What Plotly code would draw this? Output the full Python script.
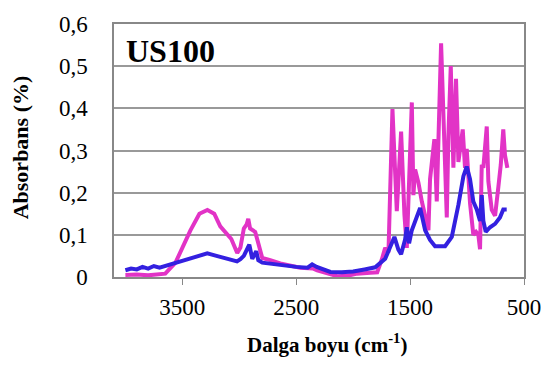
import plotly.graph_objects as go

# Magenta series (wavenumber, absorbance)
pink_wn = [4000, 3900, 3800, 3700, 3650, 3560, 3430, 3350, 3280, 3220, 3167, 3070, 3018, 2990,
           2960, 2935, 2921, 2905, 2886, 2860, 2833, 2810, 2798, 2728, 2640, 2465, 2350, 2316,
           2140, 2050, 1965, 1850, 1789, 1748, 1719, 1690, 1655, 1617, 1579, 1550, 1529, 1485,
           1471, 1456, 1427, 1397, 1339, 1325, 1287, 1266, 1252, 1228, 1178, 1164, 1143, 1120,
           1097, 1076, 1038, 1018, 1003, 974, 945, 921, 901, 886, 871, 857, 827, 813, 783, 754,
           725, 704, 682, 667, 646]
pink_val = [0.005, 0.006, 0.004, 0.007, 0.008, 0.034, 0.11, 0.15, 0.159, 0.15, 0.12, 0.09, 0.057, 0.07,
            0.115, 0.125, 0.138, 0.115, 0.112, 0.107, 0.08, 0.05, 0.045, 0.04, 0.032, 0.022, 0.02, 0.016,
            0.002, 0.003, 0.008, 0.01, 0.011, 0.042, 0.069, 0.058, 0.398, 0.156, 0.345, 0.148, 0.069, 0.414,
            0.194, 0.255, 0.224, 0.179, 0.111, 0.232, 0.327, 0.179, 0.323, 0.554, 0.141, 0.334, 0.50, 0.259,
            0.47, 0.273, 0.35, 0.259, 0.304, 0.175, 0.10, 0.107, 0.10, 0.066, 0.266, 0.259, 0.357, 0.227,
            0.159, 0.145, 0.214, 0.266, 0.35, 0.289, 0.259]

# Blue series
blue_wn = [4000, 3950, 3900, 3850, 3800, 3750, 3700, 3650, 3600, 3500, 3400, 3281, 3200, 3100, 3020,
           2990, 2960, 2912, 2886, 2851, 2833, 2798, 2700, 2500, 2400, 2360, 2320, 2200, 2100, 2000,
           1900, 1807, 1719, 1675, 1638, 1603, 1579, 1544, 1529, 1509, 1485, 1412, 1368, 1325, 1281,
           1193, 1149, 1134, 1076, 1032, 1003, 974, 945, 915, 886, 871, 857, 836, 798, 754, 711, 682, 652]
blue_val = [0.016, 0.02, 0.018, 0.024, 0.02, 0.026, 0.022, 0.026, 0.03, 0.037, 0.045, 0.056, 0.05, 0.043, 0.037,
            0.042, 0.05, 0.077, 0.043, 0.061, 0.04, 0.034, 0.03, 0.024, 0.022, 0.03, 0.024, 0.012, 0.011, 0.013,
            0.018, 0.023, 0.043, 0.073, 0.095, 0.065, 0.054, 0.089, 0.118, 0.08, 0.111, 0.164, 0.111, 0.088, 0.073,
            0.073, 0.088, 0.095, 0.171, 0.239, 0.262, 0.232, 0.179, 0.16, 0.133, 0.194, 0.133, 0.107, 0.118, 0.126,
            0.141, 0.16, 0.16]

x_ticks = [3500, 2500, 1500, 500]
y_ticks = [0, 0.1, 0.2, 0.3, 0.4, 0.5, 0.6]

fig = go.Figure()
fig.add_trace(go.Scatter(x=pink_wn, y=pink_val, mode="lines",
                         line=dict(color="#E233C6", width=4), showlegend=False))
fig.add_trace(go.Scatter(x=blue_wn, y=blue_val, mode="lines",
                         line=dict(color="#3320E0", width=4), showlegend=False))

serif = "Liberation Serif, Times New Roman, serif"
fig.update_layout(
    width=553, height=365,
    margin=dict(l=114, r=29, t=12, b=88),
    paper_bgcolor="white", plot_bgcolor="white",
    separators=",.",
    font=dict(family=serif, color="black"),
    xaxis=dict(range=[4100, 500], tickvals=x_ticks, ticks="outside", ticklen=6,
               tickcolor="#888888", showgrid=False, showline=True, linecolor="#888888",
               linewidth=1.5, mirror=True, zeroline=False, ticklabelstandoff=3,
               tickfont=dict(family=serif, size=23, color="black")),
    yaxis=dict(range=[0, 0.6], tickvals=y_ticks, ticks="", showgrid=True,
               gridcolor="#999999", gridwidth=1.5, showline=True, linecolor="#888888",
               linewidth=1.5, mirror=True, zeroline=False, ticklabelstandoff=20,
               tickfont=dict(family=serif, size=23, color="black")),
)
fig.add_annotation(x=-0.229, y=0.513, xref="paper", yref="paper",
                   text="<b>Absorbans (%)</b>", textangle=-90,
                   showarrow=False, xanchor="center", yanchor="middle",
                   font=dict(family=serif, size=22, color="black"))
fig.add_annotation(x=0.52, y=-0.262, xref="paper", yref="paper",
                   text="<b>Dalga boyu (cm<sup>-1</sup>)</b>",
                   showarrow=False, xanchor="center", yanchor="middle",
                   font=dict(family=serif, size=21, color="black"))
fig.add_annotation(x=0.024, y=0.895, xref="paper", yref="paper", text="<b>US100</b>",
                   showarrow=False, xanchor="left", yanchor="middle",
                   font=dict(family=serif, size=32, color="black"))

fig.write_html("out.html")
